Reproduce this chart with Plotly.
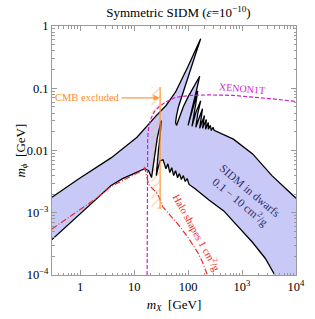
import numpy as np
import plotly.graph_objects as go

# ---------------- data (GeV) ----------------
# upper boundary of the SIDM band (incl. resonance spikes)
upper_mx = [0.3, 0.96, 3.73, 11.3, 25.7, 38.8, 47.7, 58.6, 100, 171,
            133, 109, 88.4, 75, 66.3, 61, 58.6, 61, 69, 81.5, 100, 128, 164,
            145, 128, 113, 100,
            118, 133, 151,
            139, 128, 118,
            139, 171,
            151, 139,
            164, 185,
            164, 201, 185, 218, 210, 237, 237, 258, 268, 291, 303,
            691, 1571, 3578, 10000]
upper_mphi = [0.00177, 0.00354, 0.0076, 0.0163, 0.0364, 0.0524, 0.0676, 0.0873, 0.225, 0.623,
              0.324, 0.187, 0.108, 0.0727, 0.0505, 0.0364, 0.0282, 0.0253, 0.0351, 0.0505, 0.0727, 0.105, 0.156,
              0.0973, 0.0629, 0.0421, 0.0253,
              0.0421, 0.0629, 0.0905,
              0.0564, 0.0364, 0.0244,
              0.0406, 0.0629,
              0.0392, 0.0235,
              0.0351, 0.047,
              0.0227, 0.0364, 0.0227, 0.0315, 0.0219, 0.0282, 0.0219, 0.0253, 0.0211, 0.0235, 0.0211,
              0.0152, 0.00881, 0.00395, 0.00171]

# lower boundary of the SIDM band
lower_mx = [0.3, 0.78, 2.18, 3.73, 6.1, 11.3, 15.7, 18.5, 21.0, 23.7, 26.8, 31.6,
            30.3, 27.9, 25.7, 27.9, 30.3, 34.3, 38.8, 42.2, 45.8, 49.7, 54.0, 58.6,
            63.6, 69.0, 75.0, 81.5, 88.4, 96.0, 104, 133, 247, 458, 781, 1571, 2683, 4049]
lower_mphi = [3.7e-4, 8.0e-4, 1.84e-3, 2.75e-3, 3.54e-3, 4.41e-3, 5.1e-3, 4.75e-3, 3.67e-3,
              0.0076, 0.0158, 0.0303,
              0.0170, 0.0091, 0.00395, 0.0053, 0.00682, 0.0071, 0.0051, 0.00612, 0.00441,
              0.0053, 0.00395, 0.00474, 0.00367, 0.00425, 0.00342, 0.00395, 0.00318, 0.00354,
              0.00285, 0.00246, 0.00159, 0.00107, 0.00064, 0.000333, 0.000186, 0.0001]

# XENON1T bound
xenon_mx = [17.4, 17.4, 17.8, 18.5, 20.1, 23.7, 29.1, 38.8, 58.6, 109, 247, 691, 1931, 4395, 10000]
xenon_mphi = [1e-4, 0.0109, 0.0158, 0.0227, 0.0315, 0.0421, 0.0505, 0.0606, 0.0714, 0.0768,
              0.0782, 0.0768, 0.0714, 0.0664, 0.0612]

# halo shapes 1 cm^2/g
halo_mx = [0.3, 0.78, 2.0, 3.73, 6.1, 9.2, 12.8, 15.7, 17.1, 18.5, 25.7, 29.1, 34.3, 44.0,
           66.3, 100, 151, 185, 228]
halo_mphi = [0.00055, 0.00099, 0.00171, 0.00265, 0.0033, 0.00395, 0.00457, 0.0053, 0.00367,
             0.00285, 0.00213, 0.00177, 0.00123, 0.00095, 0.00064, 0.0004, 0.00023, 0.00016, 0.0001]

# CMB exclusion
cmb_mx = 30.3
cmb_hatch_mx = [21.0, 30.3]
cmb_mphi = [0.00115, 0.105]

x_range = [0.3, 1e4]
y_range = [1e-4, 1.0]
x_tick_vals = [1, 10, 100, 1000, 10000]
x_tick_text = ["1", "10", "100", "10<sup>3</sup>", "10<sup>4</sup>"]
y_tick_vals = [1e-4, 1e-3, 1e-2, 0.1, 1]
y_tick_text = ["10<sup>−4</sup>", "10<sup>−3</sup>", "0.01", "0.1", "1"]

# ---------------- figure ----------------
SERIF = "Liberation Serif"
BAND = "#c9c9f7"
BLACK = "#000000"
MAG = "#cc22cc"
RED = "#ee2a2a"
ORANGE = "#ff9a3c"

fig = go.Figure()

# band fill
fill_x = upper_mx + [x_range[1]] + lower_mx[::-1]
fill_y = upper_mphi + [y_range[0]] + lower_mphi[::-1]
fig.add_trace(go.Scatter(x=fill_x, y=fill_y, mode="lines", fill="toself",
                         fillcolor=BAND, line=dict(width=0), hoverinfo="skip"))

# CMB hatch
hx = [cmb_hatch_mx[0], cmb_hatch_mx[1], cmb_hatch_mx[1], cmb_hatch_mx[0], cmb_hatch_mx[0]]
hy = [cmb_mphi[0], cmb_mphi[0], cmb_mphi[1], cmb_mphi[1], cmb_mphi[0]]
fig.add_trace(go.Scatter(x=hx, y=hy, mode="lines", fill="toself",
                         fillcolor="rgba(0,0,0,0)", line=dict(width=0),
                         fillpattern=dict(shape="/", fgcolor="#ffb060", bgcolor="rgba(0,0,0,0)",
                                          size=6, solidity=0.25),
                         hoverinfo="skip"))

# band boundaries
fig.add_trace(go.Scatter(x=upper_mx, y=upper_mphi, mode="lines",
                         line=dict(color=BLACK, width=1.3)))
fig.add_trace(go.Scatter(x=lower_mx, y=lower_mphi, mode="lines",
                         line=dict(color=BLACK, width=1.3)))

# XENON1T
fig.add_trace(go.Scatter(x=xenon_mx, y=xenon_mphi, mode="lines",
                         line=dict(color=MAG, width=1.2, dash="4px,2px")))
# halo shapes
fig.add_trace(go.Scatter(x=halo_mx, y=halo_mphi, mode="lines",
                         line=dict(color=RED, width=1.2, dash="6px,2px,1px,2px")))
# CMB line
fig.add_trace(go.Scatter(x=[cmb_mx, cmb_mx], y=cmb_mphi, mode="lines",
                         line=dict(color=ORANGE, width=1.2)))

minor_vals = [m * 10.0 ** k for k in range(-5, 5) for m in range(2, 10)]

axis_common = dict(type="log", showgrid=False, zeroline=False, showline=True,
                   linecolor="#9a9a9a", linewidth=1, mirror="allticks",
                   ticks="inside", ticklen=5, tickcolor="#9a9a9a", tickwidth=1,
                   tickfont=dict(family=SERIF, size=12.5, color="black"),
                   minor=dict(ticks="inside", ticklen=2.5, tickcolor="#9a9a9a",
                              tickmode="array", tickvals=minor_vals, showgrid=False))

fig.update_xaxes(**axis_common, range=[np.log10(x_range[0]), np.log10(x_range[1])],
                 tickmode="array", tickvals=x_tick_vals, ticktext=x_tick_text,
                 title=dict(text="<i>m</i><sub><i>X</i></sub>  [GeV]",
                            font=dict(family=SERIF, size=13, color="black"), standoff=6))
fig.update_yaxes(**axis_common, range=[np.log10(y_range[0]), np.log10(y_range[1])],
                 tickmode="array", tickvals=y_tick_vals, ticktext=y_tick_text)

fig.update_layout(
    width=315, height=319,
    margin=dict(l=52, r=10, t=26, b=40),
    paper_bgcolor="white", plot_bgcolor="white",
    showlegend=False,
    title=dict(text="Symmetric SIDM (<i>ε</i>=10<sup>−10</sup>)",
               font=dict(family=SERIF, size=13, color="black"),
               x=0.5664, xanchor="center", y=0.975, yanchor="top"),
)

# y-axis title as annotation (placed at left edge)
fig.add_annotation(x=-43 / 253, y=0.5, xref="paper", yref="paper",
                   text="<i>m</i><sub><i>ϕ</i></sub>  [GeV]", showarrow=False, textangle=-90,
                   font=dict(family=SERIF, size=13, color="black"))

# annotations
fig.add_annotation(x=np.log10(29.5), y=np.log10(0.0701), xref="x", yref="y",
                   text="CMB excluded", showarrow=True, ax=-72, ay=0,
                   arrowhead=2, arrowsize=1, arrowwidth=1.2, arrowcolor=ORANGE,
                   font=dict(family=SERIF, size=10.5, color="#ff8a1f"))
fig.add_annotation(x=np.log10(1000), y=np.log10(0.0973), xref="x", yref="y",
                   text="XENON1T", showarrow=False, textangle=5,
                   font=dict(family=SERIF, size=10, color=MAG))
fig.add_annotation(x=np.log10(1132), y=np.log10(0.00177), xref="x", yref="y",
                   text="SIDM in dwarfs<br>0.1 − 10 cm<sup>2</sup>/g", showarrow=False,
                   textangle=40,
                   font=dict(family=SERIF, size=11.5, color="#2e3070"))
fig.add_annotation(x=np.log10(151), y=np.log10(0.00048), xref="x", yref="y",
                   text="Halo shapes 1 cm<sup>2</sup>/g", showarrow=False, textangle=61,
                   font=dict(family=SERIF, size=10.5, color=RED))

fig.write_html("out.html", config={"displayModeBar": False},
               post_script="document.body.style.margin='0px';")
